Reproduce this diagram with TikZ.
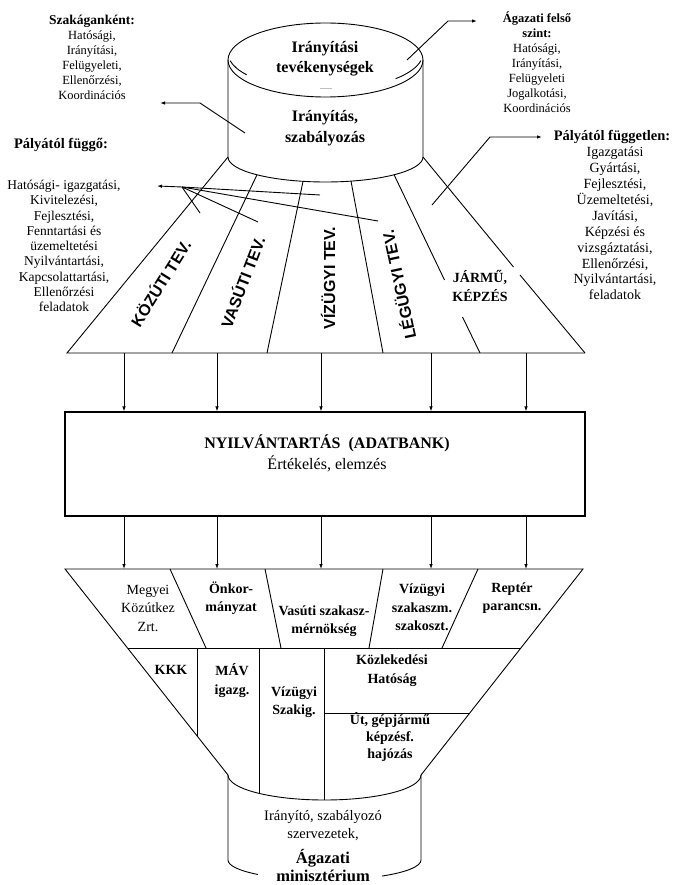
\documentclass[tikz,border=0pt]{standalone}
\usepackage{fontspec}
\setmainfont{Liberation Serif}
\setsansfont{Liberation Sans}
\usetikzlibrary{arrows.meta}

\begin{document}
\begin{tikzpicture}[x=1pt, y=-1pt, line width=0.9pt,
    lst/.style={align=center, inner sep=0pt, font=\fontsize{12.5}{15}\selectfont},
    hd/.style={align=center, inner sep=0pt, font=\bfseries\fontsize{14.5}{16}\selectfont},
    tev/.style={inner sep=0pt, font=\sffamily\bfseries\fontsize{16}{18}\selectfont},
    cell/.style={align=center, inner sep=0pt, font=\bfseries\fontsize{14}{18.5}\selectfont},
    arr/.style={-{Latex[length=5pt,width=3.5pt]}}]
    \useasboundingbox (0,0) rectangle (675,885);

    % felso henger
    \draw (325.5,60) ellipse [x radius=97.5, y radius=37];
    \draw (228,60) -- (228,157) arc [start angle=180, end angle=0, x radius=97.5, y radius=25] -- (423,60);
    \draw ([shift={(325.5,53)}]168:97.5 and 37) arc [start angle=168, end angle=144, x radius=97.5, y radius=37];
    \draw ([shift={(325.5,53)}]44:97.5 and 37) arc [start angle=44, end angle=12, x radius=97.5, y radius=37];
    \draw[gray!50, line width=0.6pt] (320,88) -- (332,88);
    \node (irt) [align=center, inner sep=0pt, font=\bfseries\fontsize{16}{20}\selectfont] at (325,59) {Irányítási\\tevékenységek};
    \node (isz) [align=center, inner sep=0pt, font=\bfseries\fontsize{16}{21}\selectfont] at (325,128.5) {Irányítás,\\szabályozás};

    % legyező
    \coordinate (c1) at (228,157);   \coordinate (b1) at (67,353);
    \coordinate (c2) at (257,174.8); \coordinate (b2) at (172,353);
    \coordinate (c3) at (303,181.4); \coordinate (b3) at (267,353);
    \coordinate (c4) at (351,181.1); \coordinate (b4) at (383,353);
    \coordinate (c5) at (394,174.6); \coordinate (b5) at (480,353);
    \coordinate (c6) at (423,157);   \coordinate (b6) at (585,353);
    \coordinate (g5a) at (444.5,280); \coordinate (g5b) at (462.5,317);
    \coordinate (g6a) at (513.5,267); \coordinate (g6b) at (520,275);
    \draw (c1) -- (b1) -- (b6);
    \draw (c2) -- (b2);
    \draw (c3) -- (b3);
    \draw (c4) -- (b4);
    \draw (c5) -- (g5a);
    \draw (g5b) -- (b5);
    \draw (c6) -- (g6a);
    \draw (g6b) -- (b6);

    \node (kozt) [tev, rotate=58]  at (160,283) {KÖZÚTI TEV.};
    \node (vast) [tev, rotate=69]  at (242,282) {VASÚTI TEV.};
    \node (vizt) [tev, rotate=90]  at (328,278) {VÍZÜGYI TEV.};
    \node (legt) [tev, rotate=102] at (398,285) {LÉGÜGYI TEV.};
    \node (jar)  [cell] at (480,286) {JÁRMŰ,\\KÉPZÉS};

    % oldalso szovegek
    \node (szak) [lst] at (92,57) {{\bfseries\fontsize{13.5}{15}\selectfont Szakáganként:}\\Hatósági,\\Irányítási,\\Felügyeleti,\\Ellenőrzési,\\Koordinációs};
    \node (agaz) [lst] at (537,62) {{\bfseries Ágazati felső}\\{\bfseries szint:}\\Hatósági,\\Irányítási,\\Felügyeleti\\Jogalkotási,\\Koordinációs};
    \node (pfh) [hd] at (61,145) {Pályától függő:};
    \node (pfl) [lst, font=\fontsize{13.5}{15.25}\selectfont] at (64,246) {Hatósági- igazgatási,\\Kivitelezési,\\Fejlesztési,\\Fenntartási és\\üzemeltetési\\Nyilvántartási,\\Kapcsolattartási,\\Ellenőrzési\\feladatok};
    \node (pth) [hd] at (612,137) {Pályától független:};
    \node (ptl) [lst, font=\fontsize{14}{15.9}\selectfont] at (615,223.5) {Igazgatási\\Gyártási,\\Fejlesztési,\\Üzemeltetési,\\Javítási,\\Képzési és\\vizsgáztatási,\\Ellenőrzési,\\Nyilvántartási,\\feladatok};

    % nyilak
    \coordinate (sz0) at (245,133); \coordinate (sz1) at (200,103); \coordinate (sz2) at (160,103);
    \coordinate (ag0) at (407,60);  \coordinate (ag1) at (448,21);  \coordinate (ag2) at (477,21);
    \coordinate (pf0) at (432,205); \coordinate (pf1) at (490,137); \coordinate (pf2) at (542,137);
    \coordinate (fk) at (182,187);  \coordinate (fka) at (157,186);
    \coordinate (fa) at (200,213);  \coordinate (fb) at (258,222);
    \coordinate (fc) at (320,195);  \coordinate (fd) at (378,221);
    \draw[arr] (sz0) -- (sz1) -- (sz2);
    \draw[arr] (ag0) -- (ag1) -- (ag2);
    \draw[arr] (pf0) -- (pf1) -- (pf2);
    \draw[arr] (fk) -- (fka);
    \draw (fk) -- (fa);
    \draw (fk) -- (fb);
    \draw (fk) -- (fc);
    \draw (fk) -- (fd);

    % adatbank
    \node (bank) [draw, line width=1.2pt, minimum width=520, minimum height=104, inner sep=0pt] at (325,464) {};
    \node (bankt) [align=center, inner sep=0pt, font=\fontsize{16}{21}\selectfont] at (327,453.5) {{\bfseries NYILVÁNTARTÁS\ \ (ADATBANK)}\\Értékelés, elemzés};

    % also tolcser
    \coordinate (tL) at (65,569);  \coordinate (tR) at (583,569);
    \coordinate (sL) at (228,775); \coordinate (sR) at (421,775);
    \coordinate (hL) at (127.5,648); \coordinate (hR) at (520.9,648);
    \draw (sL) -- (tL) -- (tR) -- (sR);
    \draw (hL) -- (hR);
    \draw (170,569) -- (206,648);
    \draw (265,569) -- (281,648);
    \draw (383,569) -- (369,648);
    \draw (478,569) -- (442,648);
    \draw (197,648) -- (197,735.8);
    \draw (259,648) -- (259,793.4);
    \draw (324,648) -- (324,800);
    \draw (324,713) -- (469.8,713);

    \foreach \x in {124,217,321,431,526} {
        \draw[arr, line width=0.8pt] (\x,0 |- b1) -- (\x,0 |- bank.north);
        \draw[arr, line width=0.8pt] (\x,0 |- bank.south) -- (\x,0 |- tL);
    }

    \node (megy)  [cell, font=\fontsize{14}{18.5}\selectfont] at (148,608) {Megyei\\Közútkez\\Zrt.};
    \node (onk)   [cell] at (231,598)   {Önkor-\\mányzat};
    \node (vas)   [cell] at (324,621)   {Vasúti szakasz-\\mérnökség};
    \node (vizsz) [cell] at (422,607.5) {Vízügyi\\szakaszm.\\szakoszt.};
    \node (rep)   [cell] at (512,598)   {Reptér\\parancsn.};
    \node (kkk)   [cell] at (171,670)   {KKK};
    \node (mav)   [cell] at (232,680.5) {MÁV\\igazg.};
    \node (vizsk) [cell] at (294,702)   {Vízügyi\\Szakig.};
    \node (koz)   [cell] at (392,670.5) {Közlekedési\\Hatóság};
    \node (utg)   [cell, font=\bfseries\fontsize{14}{17}\selectfont] at (390,737) {Út, gépjármű\\képzésf.\\hajózás};

    % also henger
    \draw (sL) arc [start angle=180, end angle=0, x radius=96.5, y radius=25];
    \draw (sL) -- (228,860) arc [start angle=180, end angle=133.6, x radius=96.5, y radius=20];
    \draw (sR) -- (421,860) arc [start angle=0, end angle=53.4, x radius=96.5, y radius=20];
    \node (ira) [align=center, inner sep=0pt, font=\fontsize{14.5}{18}\selectfont] at (323,826) {Irányító, szabályozó\\szervezetek,};
    \node (agm) [align=center, inner sep=0pt, font=\bfseries\fontsize{16.5}{18}\selectfont] at (323,866) {Ágazati\\minisztérium};
\end{tikzpicture}
\end{document}
